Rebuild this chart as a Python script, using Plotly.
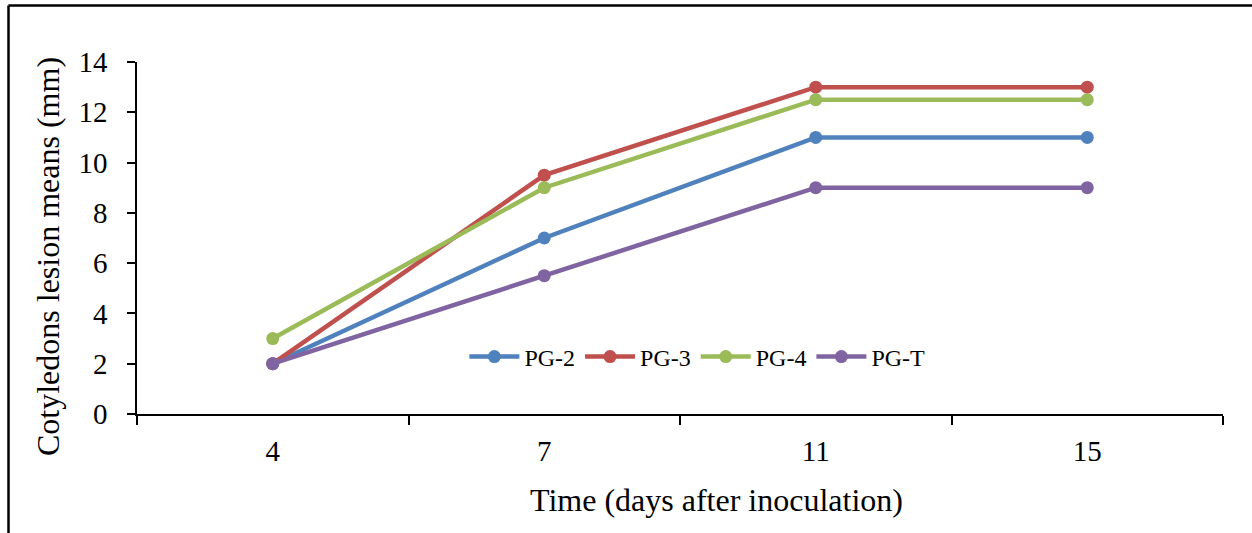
import plotly.graph_objects as go

days = ["4", "7", "11", "15"]
series_names = ["PG-2", "PG-3", "PG-4", "PG-T"]
pg2 = [2, 7, 11, 11]
pg3 = [2, 9.5, 13, 13]
pg4 = [3, 9, 12.5, 12.5]
pgt = [2, 5.5, 9, 9]
colors = ["#4F81BD", "#C0504D", "#9BBB59", "#8064A2"]
y_ticks = [0, 2, 4, 6, 8, 10, 12, 14]

W, H = 1252, 533
L, R, T, B = 137, 29, 62, 119
pw, ph = W - L - R, H - T - B

fig = go.Figure()
for name, vals, c in zip(series_names, [pg2, pg3, pg4, pgt], colors):
    fig.add_trace(go.Scatter(x=days, y=vals, name=name, mode="lines+markers",
                             line=dict(color=c, width=4.5),
                             marker=dict(color=c, size=13)))

font = "Liberation Serif, Times New Roman, serif"
fig.update_layout(
    width=W, height=H,
    margin=dict(l=L, r=R, t=T, b=B),
    paper_bgcolor="white", plot_bgcolor="white",
    font=dict(family=font, color="black"),
    showlegend=True,
    legend=dict(orientation="h", x=0.516, y=0.162, xanchor="center", yanchor="middle",
                font=dict(size=24, family=font), bgcolor="rgba(0,0,0,0)",
                tracegroupgap=0, itemwidth=50),
    xaxis=dict(type="category", range=[-0.5, 3.5], showline=True, linecolor="black",
               linewidth=1.5, ticks="outside", tickson="boundaries", ticklen=9,
               tickcolor="black", tickwidth=1.5, showgrid=False, zeroline=False,
               ticklabelstandoff=10,
               tickfont=dict(size=29, family=font)),
    yaxis=dict(range=[0, 14], tickvals=y_ticks, showline=True, linecolor="black",
               linewidth=1.5, ticks="outside", ticklen=8, tickcolor="black",
               tickwidth=1.5, showgrid=False, zeroline=False,
               ticklabelstandoff=14,
               tickfont=dict(size=29, family=font)),
    annotations=[
        dict(text="Time (days after inoculation)", xref="paper", yref="paper",
             x=(716 - L) / pw, y=(H - B - 500) / ph, xanchor="center", yanchor="middle",
             showarrow=False, font=dict(size=32, family=font)),
        dict(text="Cotyledons lesion means (mm)", xref="paper", yref="paper",
             x=(48 - L) / pw, y=(H - B - 257) / ph, xanchor="center", yanchor="middle",
             textangle=-90, showarrow=False, font=dict(size=32, family=font)),
    ],
    shapes=[
        dict(type="line", xref="paper", yref="paper",
             x0=(8.5 - L) / pw, x1=(1260 - L) / pw,
             y0=(H - B - 5.5) / ph, y1=(H - B - 5.5) / ph,
             line=dict(color="black", width=2.5)),
        dict(type="line", xref="paper", yref="paper",
             x0=(8.5 - L) / pw, x1=(8.5 - L) / pw,
             y0=(H - B - 5.5) / ph, y1=(H - B - 540) / ph,
             line=dict(color="black", width=2.5)),
    ],
)

fig.write_html("out.html")
